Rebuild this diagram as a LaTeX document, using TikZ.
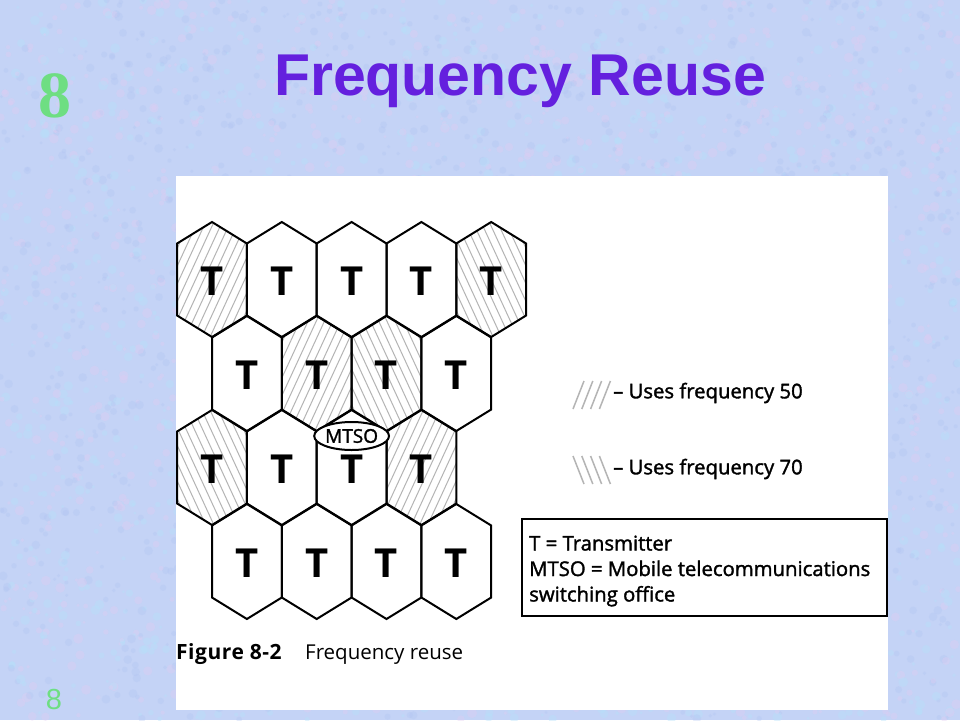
\documentclass[tikz,border=0pt]{standalone}
\usepackage{fontspec}
\setmainfont{Open Sans}
\newfontfamily\titlefont{Liberation Sans}
\newfontfamily\numfont{Liberation Serif}
\newfontfamily\figfont{Open Sans}
\newfontfamily\figfontsb[FakeBold=1.6]{Open Sans}
\newfontfamily\figfontbw[LetterSpace=2.5]{Open Sans}
\usetikzlibrary{shapes.geometric}
\definecolor{bgc}{RGB}{196,211,246}
\definecolor{blobpink}{RGB}{226,204,242}
\definecolor{blobcyan}{RGB}{182,224,250}
\definecolor{blobblue}{RGB}{176,196,242}
\definecolor{titlec}{RGB}{100,32,222}
\definecolor{numc}{RGB}{110,222,130}
\definecolor{hatchc}{RGB}{180,180,180}
\newcommand\hexpath[2]{({#1},{#2-57.5}) -- ({#1+34.9},{#2-36}) -- ({#1+34.9},{#2+36}) -- ({#1},{#2+57.5}) -- ({#1-34.9},{#2+36}) -- ({#1-34.9},{#2-36}) -- cycle}
\newcommand\hatchcell[3]{%
  \begin{scope}
    \clip \hexpath{#1}{#2};
    \foreach \i in {-12,...,12}{
      \draw[hatchline] ({#1+\i*8.2-(#3)},{#2+69.3}) -- ({#1+\i*8.2+(#3)},{#2-69.3});
    }
  \end{scope}}
\begin{document}
\begin{tikzpicture}[x=1pt,y=-1pt,
  hatchline/.style={draw=hatchc,line width=1pt},
  hexline/.style={draw=black,line width=2pt,line join=miter},
  tlabel/.style={font=\figfont\bfseries\fontsize{40}{40}\selectfont,inner sep=0pt},
  legtext/.style={font=\figfontsb\fontsize{20.3}{25.5}\selectfont,inner sep=0pt,anchor=west,align=left},
  legmark/.style={draw=hatchc,line width=1.5pt}]
\useasboundingbox (0,0) rectangle (960,720);
\fill[bgc] (0,0) rectangle (960,720);
% mottled background texture
\pgfmathsetseed{4242}
\foreach \n in {1,...,1400}{
  \pgfmathsetmacro\bx{rnd*960}\pgfmathsetmacro\by{rnd*720}\pgfmathsetmacro\br{1.5+rnd*3.5}
  \fill[blobpink,opacity=0.35] (\bx,\by) circle[radius=\br];
  \pgfmathsetmacro\bx{rnd*960}\pgfmathsetmacro\by{rnd*720}\pgfmathsetmacro\br{1.5+rnd*3.5}
  \fill[blobcyan,opacity=0.4] (\bx,\by) circle[radius=\br];
  \pgfmathsetmacro\bx{rnd*960}\pgfmathsetmacro\by{rnd*720}\pgfmathsetmacro\br{1.5+rnd*3}
  \fill[blobblue,opacity=0.3] (\bx,\by) circle[radius=\br];
}
\fill[white] (176,176) rectangle (888,710);

% title and slide numbers
\node[anchor=base,inner sep=0pt,text=titlec,font=\titlefont\bfseries\fontsize{59}{59}\selectfont] (title) at (520,95) {Frequency Reuse};
\node[anchor=base,inner sep=0pt,text=numc,font=\numfont\bfseries\fontsize{66}{66}\selectfont] (bignum) at (55,117) {8};
\node[anchor=base,inner sep=0pt,text=numc,font=\titlefont\fontsize{29}{29}\selectfont] (smallnum) at (54,709) {8};

% hatching
\hatchcell{212}{279.5}{32}
\hatchcell{491.2}{279.5}{-32}
\hatchcell{316.7}{373.5}{32}
\hatchcell{386.5}{373.5}{-32}
\hatchcell{212}{467.5}{-32}
\hatchcell{421.4}{467.5}{32}

% hex outlines
\foreach \cx in {212,281.8,351.6,421.4,491.2}{\draw[hexline] \hexpath{\cx}{279.5};}
\foreach \cx in {246.9,316.7,386.5,456.3}{\draw[hexline] \hexpath{\cx}{373.5};}
\foreach \cx in {212,281.8,351.6,421.4}{\draw[hexline] \hexpath{\cx}{467.5};}
\foreach \cx in {246.9,316.7,386.5,456.3}{\draw[hexline] \hexpath{\cx}{561.5};}

% transmitters
\node[tlabel] (t11) at (212,281) {T};
\node[tlabel] (t12) at (281.8,281) {T};
\node[tlabel] (t13) at (351.6,281) {T};
\node[tlabel] (t14) at (421.4,281) {T};
\node[tlabel] (t15) at (491.2,281) {T};
\node[tlabel] (t21) at (246.9,375) {T};
\node[tlabel] (t22) at (316.7,375) {T};
\node[tlabel] (t23) at (386.5,375) {T};
\node[tlabel] (t24) at (456.3,375) {T};
\node[tlabel] (t31) at (212,469) {T};
\node[tlabel] (t32) at (281.8,469) {T};
\node[tlabel] (t33) at (351.6,469) {T};
\node[tlabel] (t34) at (421.4,469) {T};
\node[tlabel] (t41) at (246.9,563) {T};
\node[tlabel] (t42) at (316.7,563) {T};
\node[tlabel] (t43) at (386.5,563) {T};
\node[tlabel] (t44) at (456.3,563) {T};

% MTSO
\node[draw,ellipse,fill=white,line width=2pt,minimum width=69pt,minimum height=28pt,inner sep=0pt,
      font=\figfontsb\fontsize{19}{19}\selectfont] (mtso) at (351.6,436) {MTSO};

% legend
\foreach \k in {0,...,3}{\draw[legmark] ({573+8.8*\k},409) -- ({584+8.8*\k},381);}
\node[legtext] (leg50) at (613,393) {– Uses frequency 50};
\foreach \k in {0,...,3}{\draw[legmark] ({573+8.8*\k},456) -- ({584+8.8*\k},484);}
\node[legtext] (leg70) at (613,469) {– Uses frequency 70};

\node[draw,line width=2pt,minimum width=365pt,minimum height=97pt,inner sep=0pt] (keybox) at (704.5,567.5) {};
\node[legtext] (keytext) at (529,571) {T = Transmitter\\MTSO = Mobile telecommunications\\switching office};

% caption
\node[anchor=base west,inner sep=0pt,font=\figfontbw\bfseries\fontsize{21}{21}\selectfont] (figno) at (176,659) {Figure 8-2};
\node[anchor=base west,inner sep=0pt,font=\figfont\fontsize{20.5}{20.5}\selectfont] (figcap) at (305,659) {Frequency reuse};
\end{tikzpicture}
\end{document}
